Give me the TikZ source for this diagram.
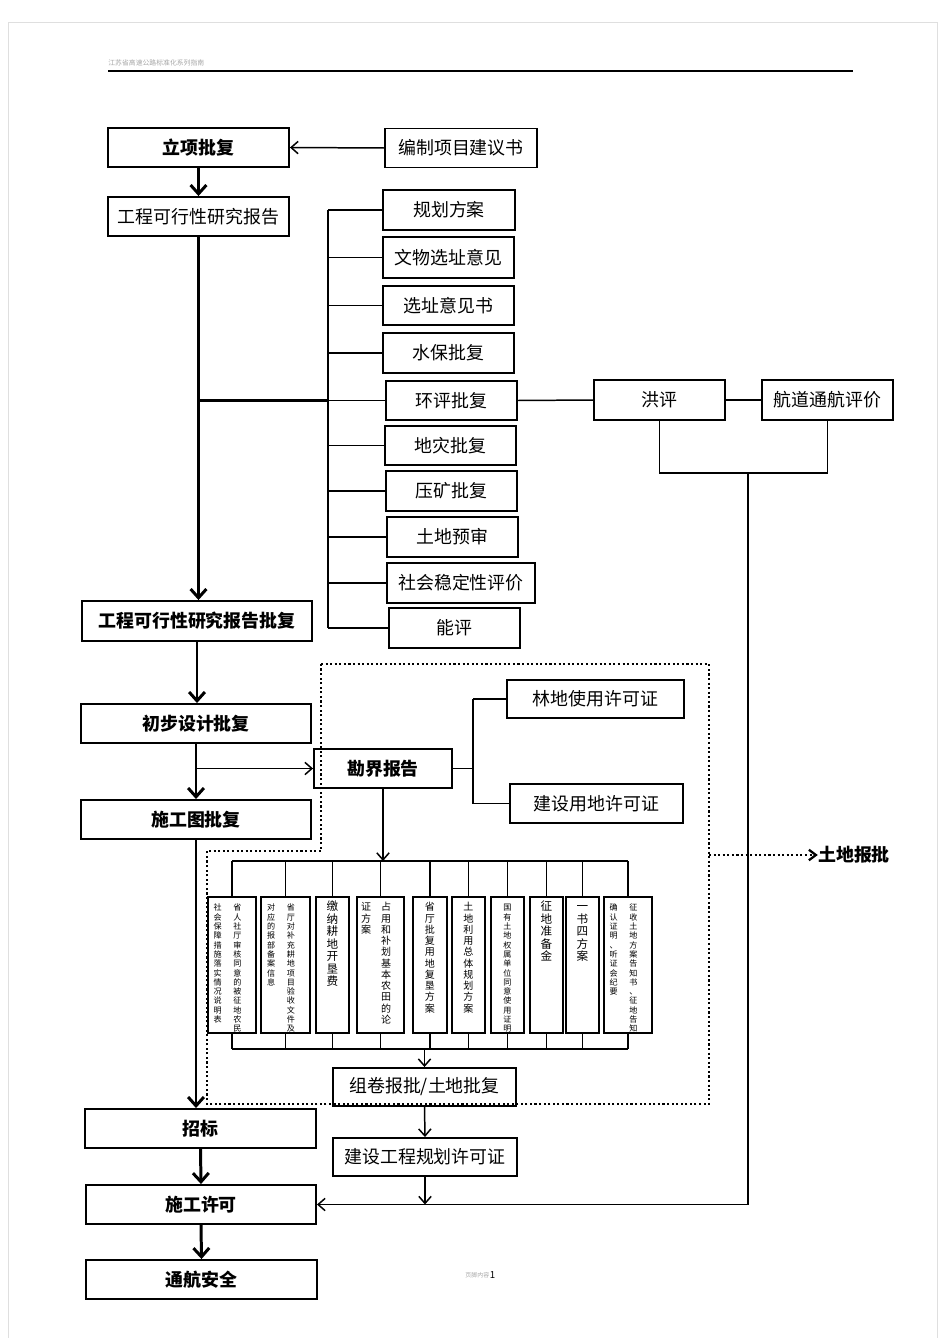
\documentclass[tikz,border=0pt]{standalone}
\usepackage{fontspec}
\setmainfont{Noto Sans CJK SC}
\usetikzlibrary{arrows.meta}
% vertical text, one character per line
\newcommand{\vcol}[1]{\vtop{\vcoli#1\relax}}
\def\vcoli#1{\ifx\relax#1\else\hbox{#1}\expandafter\vcoli\fi}
\newcommand{\vtwo}[2]{\vcol{#2}\hspace{6.6pt}\vcol{#1}\kern5pt}
\newcommand{\vtsmall}{\fontsize{4.6}{5.3}\selectfont}
\newcommand{\vtmid}{\fontsize{5.7}{6.4}\selectfont}
\newcommand{\vtbig}{\fontsize{6.6}{7.1}\selectfont}
\tikzset{%
    bx/.style={draw, line width=1.1pt, inner sep=0pt, minimum height=0.78cm,
        font=\fontsize{10.2}{12}\selectfont},
    bxb/.style={bx, font=\fontsize{10.2}{12}\selectfont\bfseries},
    vbx/.style={draw, line width=0.9pt, anchor=north, inner xsep=0pt, inner ysep=2pt,
        text height=6pt, text depth=67.4pt, minimum width=#1}
}

\begin{document}
\begin{tikzpicture}[x=0.02cm, y=-0.02cm,
            ln/.style={line width=0.85pt},
            thk/.style={line width=1.7pt, -{Straight Barb[length=5pt,width=9pt]}},
            thn/.style={line width=0.85pt, -{Straight Barb[length=4pt,width=7pt]}},
            dots/.style={line width=1.3pt, dash pattern=on 1.2pt off 1.4pt}
            ]
            \useasboundingbox (0,0) rectangle (945,1338);
            \draw[gray!25] (8,1338) -- (8,22) -- (937,22) -- (937,1338);

            % page header and footer
            \node[anchor=west, inner sep=0pt, text=gray!70, font=\fontsize{3.9}{4.5}\selectfont] (hdr) at (108,63) {江苏省高速公路标准化系列指南};
            \draw[line width=0.7pt] (108,71) -- (853,71);
            \node[anchor=west, inner sep=0pt, text=gray!70, font=\fontsize{3.4}{4}\selectfont] (ftr) at (465,1275) {页脚内容};
            \node[anchor=west, inner sep=0pt, font=\fontsize{5.5}{6}\selectfont] (pgno) at (ftr.east) {1};

            % main column
            \node[bxb, minimum width=3.62cm] (lxpf) at (198.5,147.5) {立项批复};
            \node[bx, minimum width=3.04cm] (bzxm) at (461,148) {编制项目建议书};
            \node[bx, minimum width=3.62cm] (gkbg) at (198.5,216.5) {工程可行性研究报告};
            \node[bxb, minimum width=4.6cm, minimum height=0.8cm] (gkpf) at (197,621) {工程可行性研究报告批复};
            \node[bxb, minimum width=4.6cm] (cbsj) at (196,723.5) {初步设计批复};
            \node[bxb, minimum width=4.6cm] (sgtpf) at (196,819.5) {施工图批复};
            \node[bxb, minimum width=4.62cm] (zhaob) at (200.5,1128.5) {招标};
            \node[bxb, minimum width=4.6cm] (sgxk) at (201,1204.5) {施工许可};
            \node[bxb, minimum width=4.62cm] (thaq) at (201.5,1279.5) {通航安全};

            % approvals for the feasibility report
            \node[bx, minimum width=2.64cm, minimum height=0.8cm] (ghfa) at (449,210) {规划方案};
            \node[bx, minimum width=2.62cm, minimum height=0.82cm] (wwyj) at (448.5,257.5) {文物选址意见};
            \node[bx, minimum width=2.62cm] (xzys) at (448.5,305.5) {选址意见书};
            \node[bx, minimum width=2.62cm, minimum height=0.8cm] (sbpf) at (448.5,353) {水保批复};
            \node[bx, minimum width=2.62cm] (hppf) at (451.5,400.5) {环评批复};
            \node[bx, minimum width=2.62cm] (dzpf) at (450.5,445.5) {地灾批复};
            \node[bx, minimum width=2.62cm, minimum height=0.8cm] (ykpf) at (451.5,491) {压矿批复};
            \node[bx, minimum width=2.62cm, minimum height=0.8cm] (tdys) at (452.5,537) {土地预审};
            \node[bx, minimum width=2.96cm, minimum height=0.8cm] (shwd) at (461,583) {社会稳定性评价};
            \node[bx, minimum width=2.62cm, minimum height=0.8cm] (nengp) at (454.5,628) {能评};
            \node[bx, minimum width=2.62cm, minimum height=0.8cm] (hongp) at (659.5,400) {洪评};
            \node[bx, minimum width=2.62cm, minimum height=0.8cm] (hdth) at (827.5,400) {航道通航评价};

            % land part
            \node[bxb, minimum width=2.76cm] (kjbg) at (383,768.5) {勘界报告};
            \node[bx, minimum width=3.54cm, minimum height=0.76cm] (ldxk) at (595.5,699) {林地使用许可证};
            \node[bx, minimum width=3.46cm] (jsyd) at (596.5,803.5) {建设用地许可证};
            \node[bx, minimum width=3.66cm, minimum height=0.76cm] (zjbp) at (424.5,1087) {组卷报批/土地批复};
            \node[bx, minimum width=3.68cm, minimum height=0.76cm] (jsgh) at (425,1157) {建设工程规划许可证};
            \node[inner sep=0pt, font=\fontsize{10.2}{12}\selectfont\bfseries] (tdbp) at (854,855) {土地报批};

            \node[vbx=0.96cm, font=\vtsmall] (v1) at (232,896) {\vtwo{省人社厅审核同意的被征地农民}{社会保障措施落实情况说明表}};
            \node[vbx=0.98cm, font=\vtsmall] (v2) at (285.5,896) {\vtwo{省厅对补充耕地项目验收文件及}{对应的报部备案信息}};
            \node[vbx=0.66cm, font=\vtbig] (v3) at (332.5,896) {\vcol{缴纳耕地开垦费}};
            \node[vbx=0.94cm, font=\vtmid] (v4) at (380.5,896) {\vcol{证方案}\hspace{5.6pt}\vcol{占用和补划基本农田的论}\kern5pt};
            \node[vbx=0.68cm, font=\vtmid] (v5) at (430,896) {\vcol{省厅批复用地复垦方案}};
            \node[vbx=0.66cm, font=\vtmid] (v6) at (468.5,896) {\vcol{土地利用总体规划方案}};
            \node[vbx=0.66cm, font=\vtsmall] (v7) at (507.5,896) {\vcol{国有土地权属单位同意使用证明}};
            \node[vbx=0.66cm, font=\vtbig] (v8) at (546.5,896) {\vcol{征地准备金}};
            \node[vbx=0.66cm, font=\vtbig] (v9) at (582.5,896) {\vcol{一书四方案}};
            \node[vbx=0.96cm, font=\vtsmall] (v10) at (628,896) {\vtwo{征收土地方案告知书、征地告知}{确认证明、听证会纪要}};

            \coordinate (bus) at (328,0);
            \coordinate (kbus) at (473,0);
            \coordinate (tbus) at (0,861);
            \coordinate (bbus) at (0,1049);
            \coordinate (hbus) at (748,473);

            % main flow
            \draw[thn] (bzxm.west) -- (lxpf.east);
            \draw[thk] (lxpf.south) -- (gkbg.north);
            \draw[thk] (gkbg.south) -- (gkbg.south |- gkpf.north);
            \draw[thk] (gkpf.south) -- (gkpf.south |- cbsj.north);
            \draw[thk] (cbsj.south) -- (sgtpf.north);
            \draw[thk] (sgtpf.south) -- (sgtpf.south |- zhaob.north);
            \draw[thk] (zhaob.south) -- (sgxk.north);
            \draw[thk] (sgxk.south) -- (thaq.north);

            % branches of the feasibility report
            \draw[line width=1.7pt] (gkbg.south |- hppf.west) -- (bus |- hppf.west);
            \draw[ln] (bus |- ghfa.west) -- (bus |- nengp.west);
            \foreach \n in {ghfa,wwyj,xzys,sbpf,hppf,dzpf,ykpf,tdys,shwd,nengp}
                \draw[ln] (bus |- \n.west) -- (\n.west);
            \draw[ln] (hppf.east) -- (hongp.west);
            \draw[ln] (hongp.east) -- (hdth.west);
            \draw[ln] (hongp.south) |- (hbus) -| (hdth.south);
            \draw[thn] (hbus) |- (sgxk.east);

            % land approval
            \draw[thn] (cbsj.south |- kjbg.west) -- (kjbg.west);
            \draw[ln] (kjbg.east) -- (kbus |- kjbg.east);
            \draw[ln] (kbus |- ldxk.west) -- (kbus |- jsyd.west);
            \draw[ln] (kbus |- ldxk.west) -- (ldxk.west);
            \draw[ln] (kbus |- jsyd.west) -- (jsyd.west);
            \draw[thn] (kjbg.south) -- (kjbg.south |- tbus);
            \draw[ln] (v1.north |- tbus) -- (v10.north |- tbus);
            \draw[ln] (v1.north |- bbus) -- (v10.north |- bbus);
            \foreach \v in {v1,v2,v3,v4,v5,v6,v7,v8,v9,v10}{
                \draw[ln] (\v.north |- tbus) -- (\v.north);
                \draw[ln] (\v.south) -- (\v.south |- bbus);
            }
            \draw[thn] (zjbp.north |- bbus) -- (zjbp.north);
            \draw[thn] (zjbp.south) -- (jsgh.north);
            \draw[thn] (jsgh.south) -- (jsgh.south |- sgxk.east);

            % dotted frame
            \draw[dots] (321,664) -- (709,664) -- (709,1104) -- (207,1104) -- (207,851) -- (321,851) -- cycle;
            \coordinate (dfr) at (709,855);
            \draw[dots, -{Straight Barb[length=4pt,width=6pt]}] (dfr) -- (tdbp.west);
        \end{tikzpicture}
\end{document}
